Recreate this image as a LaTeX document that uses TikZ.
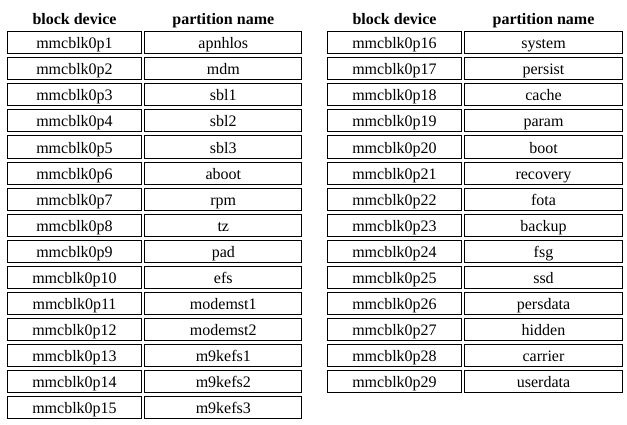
\documentclass[tikz,border=0pt]{standalone}
\usepackage{fontspec}
\setmainfont{Liberation Serif}
\usetikzlibrary{positioning}
\definecolor{TableBlack}{HTML}{000000}
\definecolor{TableWhite}{HTML}{ffffff}
\colorlet{CellBorder}{TableBlack}
\tikzset{
    devcell/.style={draw=CellBorder, line width=0.75pt, minimum width=100pt, minimum height=16.5pt, inner sep=0pt, text height=9.5pt, text depth=0.5pt, font=\fontsize{12}{14}\selectfont},
    namecell/.style={devcell, minimum width=118pt},
    headcell/.style={inner sep=0pt, text height=9.5pt, text depth=0.5pt, font=\fontsize{12}{14}\selectfont\bfseries}
}
\begin{document}
\begin{tikzpicture}[x=0.75pt, y=-0.75pt]

    % Page
    \fill[TableWhite] (0,0) rectangle (627,424);
    \useasboundingbox (0,0) rectangle (627,424);

    % Headers
    \node[headcell] (headdevA) at (74.5,19) {block device};
    \node[headcell] (headpartA) at (223.3,19) {partition name};
    \node[headcell] (headdevB) at (394.5,19) {block device};
    \node[headcell] (headpartB) at (543.5,19) {partition name};

    % Left table
    \node[devcell] (dev1) at (74.5,43) {mmcblk0p1}; \node[namecell] (part1) at (223.3,43) {apnhlos};
    \node[devcell] (dev2) at (74.5,69) {mmcblk0p2}; \node[namecell] (part2) at (223.3,69) {mdm};
    \node[devcell] (dev3) at (74.5,95) {mmcblk0p3}; \node[namecell] (part3) at (223.3,95) {sbl1};
    \node[devcell] (dev4) at (74.5,121) {mmcblk0p4}; \node[namecell] (part4) at (223.3,121) {sbl2};
    \node[devcell] (dev5) at (74.5,147) {mmcblk0p5}; \node[namecell] (part5) at (223.3,147) {sbl3};
    \node[devcell] (dev6) at (74.5,173) {mmcblk0p6}; \node[namecell] (part6) at (223.3,173) {aboot};
    \node[devcell] (dev7) at (74.5,199) {mmcblk0p7}; \node[namecell] (part7) at (223.3,199) {rpm};
    \node[devcell] (dev8) at (74.5,225) {mmcblk0p8}; \node[namecell] (part8) at (223.3,225) {tz};
    \node[devcell] (dev9) at (74.5,251) {mmcblk0p9}; \node[namecell] (part9) at (223.3,251) {pad};
    \node[devcell] (dev10) at (74.5,277) {mmcblk0p10}; \node[namecell] (part10) at (223.3,277) {efs};
    \node[devcell] (dev11) at (74.5,303) {mmcblk0p11}; \node[namecell] (part11) at (223.3,303) {modemst1};
    \node[devcell] (dev12) at (74.5,329) {mmcblk0p12}; \node[namecell] (part12) at (223.3,329) {modemst2};
    \node[devcell] (dev13) at (74.5,355) {mmcblk0p13}; \node[namecell] (part13) at (223.3,355) {m9kefs1};
    \node[devcell] (dev14) at (74.5,381) {mmcblk0p14}; \node[namecell] (part14) at (223.3,381) {m9kefs2};
    \node[devcell] (dev15) at (74.5,407) {mmcblk0p15}; \node[namecell] (part15) at (223.3,407) {m9kefs3};

    % Right table
    \node[devcell] (dev16) at (394.5,43) {mmcblk0p16}; \node[namecell] (part16) at (543.5,43) {system};
    \node[devcell] (dev17) at (394.5,69) {mmcblk0p17}; \node[namecell] (part17) at (543.5,69) {persist};
    \node[devcell] (dev18) at (394.5,95) {mmcblk0p18}; \node[namecell] (part18) at (543.5,95) {cache};
    \node[devcell] (dev19) at (394.5,121) {mmcblk0p19}; \node[namecell] (part19) at (543.5,121) {param};
    \node[devcell] (dev20) at (394.5,147) {mmcblk0p20}; \node[namecell] (part20) at (543.5,147) {boot};
    \node[devcell] (dev21) at (394.5,173) {mmcblk0p21}; \node[namecell] (part21) at (543.5,173) {recovery};
    \node[devcell] (dev22) at (394.5,199) {mmcblk0p22}; \node[namecell] (part22) at (543.5,199) {fota};
    \node[devcell] (dev23) at (394.5,225) {mmcblk0p23}; \node[namecell] (part23) at (543.5,225) {backup};
    \node[devcell] (dev24) at (394.5,251) {mmcblk0p24}; \node[namecell] (part24) at (543.5,251) {fsg};
    \node[devcell] (dev25) at (394.5,277) {mmcblk0p25}; \node[namecell] (part25) at (543.5,277) {ssd};
    \node[devcell] (dev26) at (394.5,303) {mmcblk0p26}; \node[namecell] (part26) at (543.5,303) {persdata};
    \node[devcell] (dev27) at (394.5,329) {mmcblk0p27}; \node[namecell] (part27) at (543.5,329) {hidden};
    \node[devcell] (dev28) at (394.5,355) {mmcblk0p28}; \node[namecell] (part28) at (543.5,355) {carrier};
    \node[devcell] (dev29) at (394.5,381) {mmcblk0p29}; \node[namecell] (part29) at (543.5,381) {userdata};

\end{tikzpicture}
\end{document}
